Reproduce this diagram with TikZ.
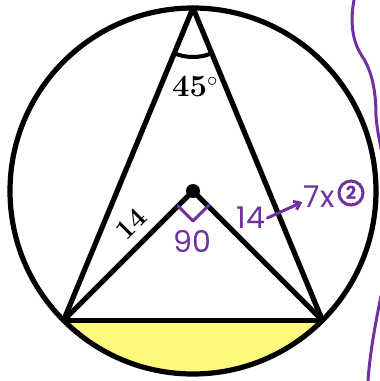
\documentclass[tikz,border=0pt]{standalone}
\usepackage{fontspec}
\newfontfamily\hand{Poppins}
\usetikzlibrary{arrows.meta,calc}
\definecolor{segyellow}{RGB}{255,250,125}
\definecolor{pen}{RGB}{112,48,160}
\begin{document}
\begin{tikzpicture}[x=1pt,y=1pt,
  geo/.style={line width=5.2pt,line join=round,line cap=round},
  ink/.style={pen,line width=3pt,line cap=round,line join=round},
  inktext/.style={pen,font=\hand\fontsize{30}{30}\selectfont,inner sep=0pt}]
\useasboundingbox (0,0) rectangle (380,381);
\fill[white] (0,0) rectangle (380,381);
\coordinate (O) at (193,190);
\coordinate (A) at (193,373);
\coordinate (B) at ($(O)+(225:183)$);
\coordinate (C) at ($(O)+(315:183)$);
% yellow segment
\fill[segyellow] (B) arc[start angle=225,end angle=315,radius=183] -- cycle;
% circle and lines
\draw[geo] (O) circle[radius=183];
\draw[geo] (B) -- (A) -- (C);
\draw[geo] (B) -- (C);
\draw[geo] (B) -- (O) -- (C);
\fill (O) circle[radius=7];
% angle arc at A
\draw[line width=4pt] ($(A)+(247.5:49)$) arc[start angle=247.5,end angle=292.5,radius=49];
\node[font=\bfseries\fontsize{31}{31}\selectfont,inner sep=0pt] (ang) at (195,295) {45\rlap{$^\circ$}\phantom{$^\circ$}};
\node[font=\bfseries\fontsize{28}{28}\selectfont,rotate=45,inner sep=0pt] (len) at (131,157) {14};
% purple annotations
\draw[ink] (178,175) -- (193,160) -- (209,176);
\node[inktext] (ninety) at (192,140) {90};
\node[inktext] (fourteen) at (251,163) {14};
\node[inktext] (sevenx) at (319,184) {7x};
\node[pen,draw,line width=3pt,circle,minimum size=24pt,inner sep=0pt,font=\hand\bfseries\fontsize{18}{18}\selectfont] (two) at (351,188) {2};
\coordinate (arrstart) at ($(fourteen.east)+(2,0)$);
\coordinate (arrend) at ($(sevenx.west)+(-1,-5)$);
\draw[ink,-{Straight Barb[length=6pt,width=9pt]}] (arrstart) -- (arrend);
% wavy line on the right
\draw[ink] (354,381) .. controls (350,360) and (352,340) .. (362,325)
  .. controls (372,310) and (376,290) .. (376,265)
  .. controls (377,250) and (380,240) .. (381,232);
\draw[ink] (381,85) .. controls (376,60) and (370,30) .. (368,0);
\end{tikzpicture}
\end{document}
